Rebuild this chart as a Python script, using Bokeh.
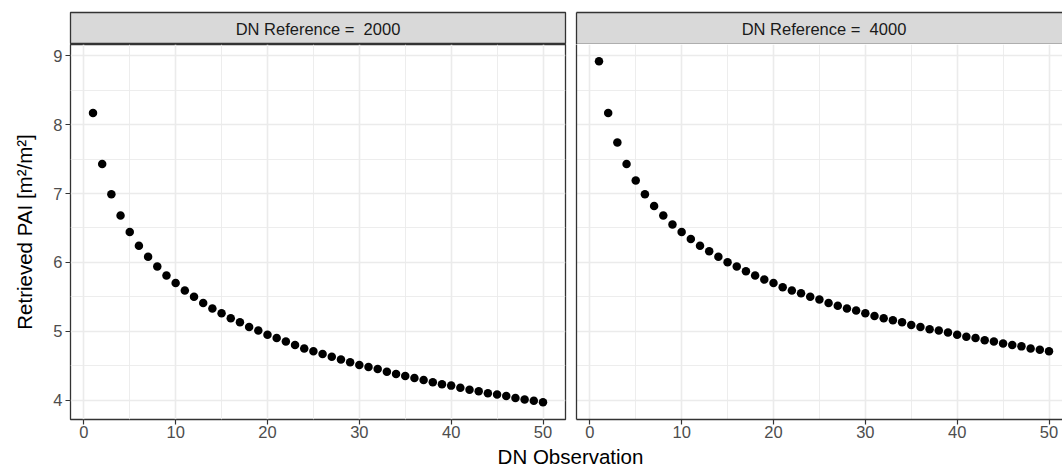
from bokeh.plotting import figure
from bokeh.layouts import row, column
from bokeh.models import FixedTicker, LinearAxis, Range1d, ColumnDataSource
from bokeh.embed import file_html
from bokeh.resources import INLINE
from bokeh.core.properties import value

# ---------------- data ----------------
dn_observation = list(range(1, 51))
pai_ref_2000 = [8.17, 7.43, 6.99, 6.68, 6.44, 6.24, 6.08, 5.94, 5.81, 5.70,
                5.59, 5.50, 5.41, 5.33, 5.26, 5.19, 5.13, 5.06, 5.01, 4.95,
                4.90, 4.85, 4.80, 4.75, 4.71, 4.67, 4.63, 4.59, 4.55, 4.51,
                4.48, 4.45, 4.41, 4.38, 4.35, 4.32, 4.29, 4.26, 4.23, 4.21,
                4.18, 4.15, 4.13, 4.10, 4.08, 4.06, 4.03, 4.01, 3.99, 3.97]
pai_ref_4000 = [8.92, 8.17, 7.74, 7.43, 7.19, 6.99, 6.82, 6.68, 6.55, 6.44,
                6.34, 6.24, 6.16, 6.08, 6.00, 5.94, 5.87, 5.81, 5.75, 5.70,
                5.64, 5.59, 5.55, 5.50, 5.46, 5.41, 5.37, 5.33, 5.30, 5.26,
                5.22, 5.19, 5.16, 5.13, 5.09, 5.06, 5.03, 5.01, 4.98, 4.95,
                4.92, 4.90, 4.87, 4.85, 4.82, 4.80, 4.78, 4.75, 4.73, 4.71]
facet_labels = ["DN Reference = \u00a02000", "DN Reference = \u00a04000"]
x_ticks = [0, 10, 20, 30, 40, 50]
y_ticks = [4, 5, 6, 7, 8, 9]
x_title = "DN Observation"
y_title = "Retrieved PAI [m\u00b2/m\u00b2]"

# ---------------- style ----------------
FONT = "Liberation Sans"
TICK_FS = "16.5px"
TITLE_FS = "20.5px"
BORDER = "#333333"
GRID = "#EBEBEB"
STRIP_FILL = "#D9D9D9"

x_minor = [(a + b) / 2 for a, b in zip(x_ticks[:-1], x_ticks[1:])]
y_minor = [(a + b) / 2 for a, b in zip(y_ticks[:-1], y_ticks[1:])]

X_LO, X_HI = -1.45, 52.45
Y_LO, Y_HI = 3.718, 9.164
PANEL_W = 495
LEFT_BORDER = 70
GAP_L, GAP_R = 5, 6
RIGHT_FRAME_W = 486
X_HI_RIGHT = X_LO + RIGHT_FRAME_W * (X_HI - X_LO) / PANEL_W

PANEL_FRAME_H = 375
PANEL_BOTTOM = 25
STRIP_H = 32
STRIP_TOP = 12
TITLE_H = 24

LEFT_W = LEFT_BORDER + PANEL_W + GAP_L
RIGHT_W = GAP_R + RIGHT_FRAME_W


def blank_axis(ax, line=True):
    ax.ticker = FixedTicker(ticks=[])
    ax.major_tick_out = 0
    ax.major_tick_in = 0
    ax.minor_tick_out = 0
    ax.minor_tick_in = 0
    ax.major_label_standoff = 0
    ax.axis_label_standoff = 0
    ax.axis_line_color = BORDER if line else None
    ax.axis_line_width = 1.3


def style_ticks(ax):
    ax.major_tick_line_color = BORDER
    ax.major_tick_line_width = 1.2
    ax.major_tick_out = 5
    ax.major_tick_in = 0
    ax.minor_tick_out = 0
    ax.minor_tick_in = 0
    ax.major_label_text_font = FONT
    ax.major_label_text_font_size = TICK_FS
    ax.major_label_text_color = "#4D4D4D"


def make_panel(yvals, left):
    xr = Range1d(X_LO, X_HI if left else X_HI_RIGHT)
    p = figure(width=LEFT_W if left else RIGHT_W,
               height=PANEL_FRAME_H + PANEL_BOTTOM,
               x_range=xr, y_range=Range1d(Y_LO, Y_HI),
               output_backend="svg", toolbar_location=None,
               min_border_left=LEFT_BORDER if left else GAP_R,
               min_border_right=GAP_L if left else 0,
               min_border_top=0, min_border_bottom=PANEL_BOTTOM,
               background_fill_color="white", border_fill_color="white")
    p.outline_line_color = BORDER if left else None
    p.outline_line_width = 1.3

    xt = FixedTicker(ticks=x_ticks, minor_ticks=x_minor)
    yt = FixedTicker(ticks=y_ticks, minor_ticks=y_minor)

    xa = p.xaxis[0]
    xa.ticker = xt
    xa.axis_line_color = None if left else BORDER
    xa.axis_line_width = 1.3
    style_ticks(xa)
    xa.major_label_standoff = 1

    ya = p.yaxis[0]
    if left:
        ya.ticker = yt
        ya.axis_line_color = None
        style_ticks(ya)
        ya.major_label_standoff = 3
        ya.axis_label = y_title
        ya.axis_label_text_font = FONT
        ya.axis_label_text_font_size = TITLE_FS
        ya.axis_label_text_font_style = "normal"
        ya.axis_label_text_color = "black"
        ya.axis_label_standoff = 14
    else:
        blank_axis(ya)

    p.xgrid.ticker = xt
    p.ygrid.ticker = yt
    for g in (p.xgrid[0], p.ygrid[0]):
        g.grid_line_color = GRID
        g.grid_line_width = 1.6
        g.minor_grid_line_color = GRID
        g.minor_grid_line_width = 0.9

    src = ColumnDataSource(dict(x=dn_observation, y=yvals))
    p.scatter("x", "y", source=src, size=8.5, color="black", line_width=0)
    return p


def make_strip(label, left):
    p = figure(width=LEFT_W if left else RIGHT_W, height=STRIP_TOP + STRIP_H,
               x_range=Range1d(X_LO, X_HI if left else X_HI_RIGHT),
               y_range=Range1d(0, 1),
               output_backend="svg", toolbar_location=None,
               min_border_left=LEFT_BORDER if left else GAP_R,
               min_border_right=GAP_L if left else 0,
               min_border_top=STRIP_TOP, min_border_bottom=0,
               background_fill_color=STRIP_FILL, border_fill_color="white")
    p.grid.visible = False
    if left:
        p.outline_line_color = BORDER
        p.outline_line_width = 1.3
        p.xaxis.visible = False
        p.yaxis.visible = False
    else:
        p.outline_line_color = None
        blank_axis(p.xaxis[0])
        blank_axis(p.yaxis[0])
        top = LinearAxis()
        blank_axis(top)
        p.add_layout(top, "above")
    p.text(x=[(X_LO + X_HI) / 2], y=[0.5], text=[label],
           text_align="center", text_baseline="middle",
           text_font=value(FONT), text_font_size=TICK_FS, text_color="#1A1A1A")
    return p


strip_l = make_strip(facet_labels[0], True)
strip_r = make_strip(facet_labels[1], False)
panel_l = make_panel(pai_ref_2000, True)
panel_r = make_panel(pai_ref_4000, False)

title_w = LEFT_W + RIGHT_W
t = figure(width=title_w, height=TITLE_H,
           x_range=Range1d(0, title_w), y_range=Range1d(0, TITLE_H),
           output_backend="svg", toolbar_location=None,
           x_axis_location=None, y_axis_location=None,
           min_border_left=0, min_border_right=0, min_border_top=0, min_border_bottom=0,
           border_fill_color="white", background_fill_color="white")
t.outline_line_color = None
t.grid.visible = False
t.text(x=[LEFT_W], y=[0.5], text=[x_title], text_align="center",
       text_baseline="bottom", text_font=value(FONT),
       text_font_size=TITLE_FS, text_color="black")

layout = column(row(column(strip_l, panel_l), column(strip_r, panel_r)), t)

with open("out.html", "w") as f:
    f.write(file_html(layout, INLINE))
